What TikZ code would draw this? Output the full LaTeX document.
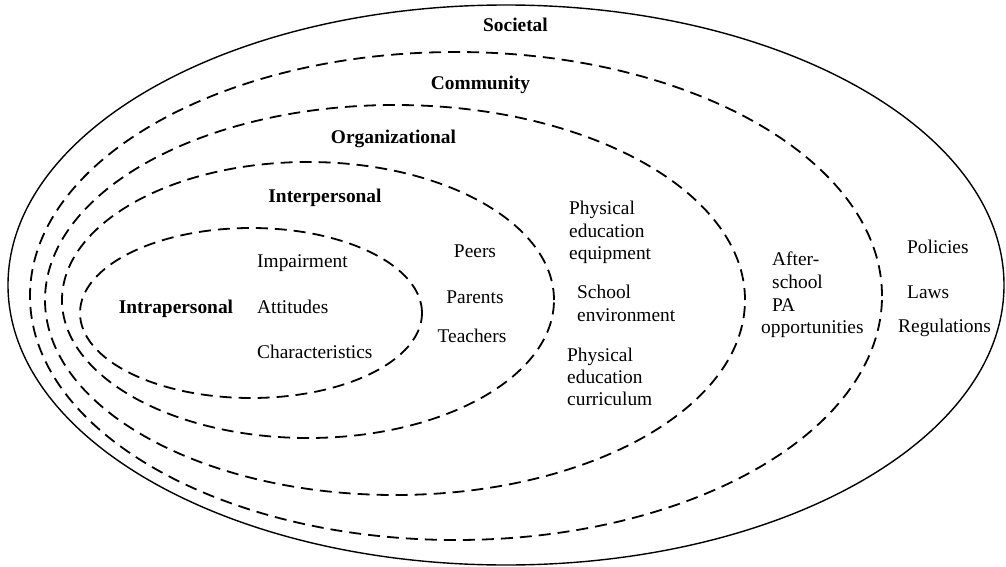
\documentclass[tikz,border=0pt]{standalone}
\usepackage{fontspec}
\setmainfont{Liberation Serif}
\tikzset{
  ring/.style={line width=1.8pt, dash pattern=on 12pt off 7pt},
  outerring/.style={line width=1.4pt},
  lvl/.style={font=\fontsize{19.4}{22.8}\selectfont\bfseries, inner sep=0pt, anchor=base},
  item/.style={font=\fontsize{19.4}{22.8}\selectfont, inner sep=0pt, anchor=base west},
  citem/.style={font=\fontsize{19.4}{22.8}\selectfont, inner sep=0pt, anchor=base},
}
\begin{document}
\begin{tikzpicture}[x=1pt,y=-1pt]
\useasboundingbox (0,0) rectangle (1006,567);
% ellipses
\draw[outerring] (506,285) ellipse [x radius=498pt, y radius=280pt];
\draw[ring] (456,296) ellipse [x radius=426pt, y radius=244pt];
\draw[ring] (395,300) ellipse [x radius=350pt, y radius=195pt];
\draw[ring] (308,300) ellipse [x radius=246pt, y radius=138pt];
\draw[ring] (251,313) ellipse [x radius=171pt, y radius=85pt];
% level labels
\node[lvl] (soc) at (515.5,32) {Societal};
\node[lvl] (com) at (480.5,90) {Community};
\node[lvl] (org) at (393.5,143) {Organizational};
\node[lvl] (inter) at (325,202) {Interpersonal};
\node[lvl] (intra) at (176,313) {Intrapersonal};
% intrapersonal items
\node[item] (imp) at (257,267) {Impairment};
\node[item] (att) at (257,313) {Attitudes};
\node[item] (cha) at (257,358) {Characteristics};
% interpersonal items
\node[citem] (peers) at (475,257) {Peers};
\node[citem] (parents) at (475,303) {Parents};
\node[citem] (teachers) at (472,342) {Teachers};
% organizational items
\node[item] (pe1) at (569,214) {Physical};
\node[item] (pe2) at (569,237) {education};
\node[item] (pe3) at (569,259) {equipment};
\node[item] (se1) at (577,298) {School};
\node[item] (se2) at (577,321) {environment};
\node[item] (pc1) at (567,361) {Physical};
\node[item] (pc2) at (567,383) {education};
\node[item] (pc3) at (567,405) {curriculum};
% community items
\node[item] (as1) at (772,265) {After-};
\node[item] (as2) at (772,288) {school};
\node[item] (as3) at (772,311) {PA};
\node[item] (as4) at (761,333) {opportunities};
% societal items
\node[item] (pol) at (907,253) {Policies};
\node[item] (law) at (907,298) {Laws};
\node[item] (reg) at (898,332) {Regulations};
\end{tikzpicture}
\end{document}
